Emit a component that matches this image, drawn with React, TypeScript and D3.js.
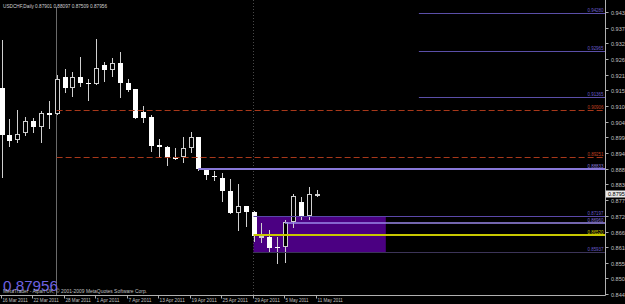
import React from "react";
import * as d3 from "d3";

const dates = ["16 Mar","17 Mar","18 Mar","21 Mar","22 Mar","23 Mar","24 Mar","25 Mar","28 Mar","29 Mar","30 Mar","31 Mar","1 Apr","4 Apr","5 Apr","6 Apr","7 Apr","8 Apr","11 Apr","12 Apr","13 Apr","14 Apr","15 Apr","18 Apr","19 Apr","20 Apr","21 Apr","22 Apr","25 Apr","26 Apr","27 Apr","28 Apr","29 Apr","2 May","3 May","4 May","5 May","6 May","9 May","10 May","11 May"];
const opens = [0.91670,0.90029,0.89854,0.90109,0.90518,0.90319,0.90797,0.90752,0.92065,0.91660,0.92044,0.91856,0.91800,0.92463,0.92299,0.92533,0.91835,0.91625,0.90822,0.90647,0.89680,0.89599,0.89250,0.89261,0.89564,0.89948,0.88808,0.88593,0.88527,0.88084,0.87315,0.87549,0.87350,0.86431,0.86477,0.86107,0.86107,0.86980,0.87678,0.87210,0.87901];
const highs = [0.93347,0.90577,0.90902,0.90658,0.90623,0.90867,0.91227,0.92125,0.92324,0.92219,0.92743,0.91974,0.93382,0.92589,0.92708,0.92938,0.91974,0.91636,0.91042,0.90728,0.89889,0.89645,0.89564,0.89976,0.90144,0.89969,0.88866,0.88782,0.88712,0.88492,0.88318,0.87560,0.87360,0.86945,0.86711,0.86477,0.87060,0.87968,0.87853,0.88202,0.88097];
const lows = [0.88527,0.89599,0.89739,0.89994,0.90109,0.89760,0.90249,0.90727,0.91485,0.91367,0.91716,0.91227,0.91790,0.91891,0.92065,0.91311,0.91541,0.90577,0.90437,0.89446,0.89271,0.88946,0.89156,0.89040,0.89390,0.88771,0.88457,0.88433,0.87699,0.87280,0.86676,0.86826,0.86302,0.86246,0.85953,0.85523,0.85548,0.86770,0.87060,0.87060,0.87850];
const closes = [0.90029,0.89830,0.90053,0.90518,0.90319,0.90787,0.90738,0.91974,0.91660,0.92044,0.91835,0.91810,0.92359,0.92299,0.92533,0.91835,0.91601,0.90612,0.90633,0.89645,0.89599,0.89250,0.89180,0.89575,0.89948,0.88831,0.88623,0.88547,0.88084,0.87294,0.87549,0.87340,0.86501,0.86501,0.86093,0.86072,0.86980,0.87898,0.87200,0.87968,0.87956];

const priceTicks = [0.94329,0.93782,0.93238,0.92690,0.92139,0.91596,0.91048,0.90497,0.89948,0.89402,0.88850,0.88307,0.87755,0.87208,0.86658,0.86105,0.85565,0.85018,0.84470];
const dateTicks = ["16 Mar","22 Mar","28 Mar","1 Apr","7 Apr","13 Apr","19 Apr","25 Apr","29 Apr","5 May","11 May"];

const levelValues = [0.94280,0.92965,0.91365,0.90906,0.89251,0.88833,0.87197,0.86960,0.86520,0.85937];
const levelStartBar = [53,53,53,7,7,25,32,36,32,32];
const levelKinds = ["fibo","fibo","fibo","dash","dash","thick","thin","light","yellow","dim"];

const rectBars = [32, 48.8];
const rectPrices = [0.87197, 0.85937];
const vLineBars = [7, 32];

const title = "USDCHF,Daily  0.87901 0.88097 0.87509 0.87956";
const lastPrice = "0.87956";
const copyright = "MetaTrader - Alpari UK, \u00a9 2001-2009 MetaQuotes Software Corp.";

const W = 625, H = 304;
const AX = 605.5, AY = 295.5;
const FONT = "'Liberation Sans', 'DejaVu Sans', sans-serif";

const kindStyle: Record<string, any> = {
  fibo: { stroke: "#5b4fa8", w: 1, dash: null, text: "#6a5cc8" },
  dash: { stroke: "#a8381a", w: 1, dash: "6,3", text: "#c04020" },
  thick: { stroke: "#8878d8", w: 2, dash: null, text: "#8878d8" },
  thin: { stroke: "#5a48a8", w: 1, dash: null, text: "#6a5cc8" },
  light: { stroke: "#9a88e8", w: 1.5, dash: null, text: "#8070d0" },
  yellow: { stroke: "#c8c800", w: 2, dash: null, text: "#c8c800" },
  dim: { stroke: "#3c3458", w: 1, dash: null, text: "#6a5cc8" },
};

export default function App() {
  const x = d3.scaleLinear().domain([0, 40]).range([1.5, 316.5]);
  const y = d3.scaleLinear().domain([0.8451, 0.9437]).range([293, 10.7]);
  const barIndex = (d: string) => dates.indexOf(d);

  return (
    <svg width={W} height={H} style={{ position: "fixed", left: 0, top: 0, background: "#000" }}>
      <rect x={0} y={0} width={W} height={H} fill="#000" />
      <defs>
        <clipPath id="plot"><rect x={0} y={0} width={AX} height={AY} /></clipPath>
      </defs>
      <g clipPath="url(#plot)">
        {/* rectangle object */}
        <rect x={x(rectBars[0])} y={y(rectPrices[0])} width={x(rectBars[1]) - x(rectBars[0])}
          height={y(rectPrices[1]) - y(rectPrices[0])} fill="#4b0082" />
        {/* vertical lines */}
        <line x1={Math.round(x(vLineBars[0])) - 0.5} x2={Math.round(x(vLineBars[0])) - 0.5} y1={7} y2={AY} stroke="#6a6a6a" strokeWidth={1} />
        <line x1={Math.round(x(vLineBars[1])) - 0.5} x2={Math.round(x(vLineBars[1])) - 0.5} y1={0} y2={AY} stroke="#484848" strokeWidth={1} strokeDasharray="1,2" />
        {/* candles */}
        {dates.map((d, i) => {
          const cx = Math.round(x(i));
          const o = opens[i], c = closes[i], h = highs[i], l = lows[i];
          const bull = c >= o;
          const top = Math.round(y(Math.max(o, c)));
          const bot = Math.round(y(Math.min(o, c)));
          const bh = Math.max(1, bot - top);
          return (
            <g key={d} shapeRendering="crispEdges">
              <line x1={cx + 0.5} x2={cx + 0.5} y1={y(h)} y2={y(l)} stroke="#d0d0d0" strokeWidth={1} />
              {bull ? (
                <rect x={cx - 1.5} y={top + 0.5} width={4} height={Math.max(0.5, bh - 1)} fill="#000" stroke="#d0d0d0" strokeWidth={1} />
              ) : (
                <rect x={cx - 2} y={top} width={5} height={bh} fill="#ffffff" />
              )}
            </g>
          );
        })}
        {/* level lines */}
        {levelValues.map((v, i) => {
          const s = kindStyle[levelKinds[i]];
          const yy = Math.round(y(v)) + (s.w === 1 ? 0.5 : 0);
          return (
            <line key={"lv" + i} x1={x(levelStartBar[i])} x2={AX} y1={yy} y2={yy}
              stroke={s.stroke} strokeWidth={s.w} strokeDasharray={s.dash || undefined} />
          );
        })}
      </g>
      {/* level labels */}
      {levelValues.map((v, i) => {
        const s = kindStyle[levelKinds[i]];
        return (
          <text key={"lt" + i} x={603.5} y={Math.round(y(v)) - 1.5} fontSize={5} fontFamily={FONT}
            fill={s.text} textAnchor="end" textLength={16} lengthAdjust="spacingAndGlyphs">
            {v.toFixed(5)}
          </text>
        );
      })}
      {/* axes */}
      <line x1={AX} x2={AX} y1={0} y2={AY} stroke="#b0b0b0" strokeWidth={1} />
      <line x1={0} x2={AX} y1={AY} y2={AY} stroke="#b0b0b0" strokeWidth={1} />
      {priceTicks.map((t) => (
        <g key={"pt" + t}>
          <line x1={AX} x2={AX + 3} y1={Math.round(y(t)) + 0.5} y2={Math.round(y(t)) + 0.5} stroke="#b0b0b0" />
          <text x={611} y={Math.round(y(t)) + 2.5} fontSize={5.5} fontFamily={FONT} fill="#c0c0c0"
            textLength={20} lengthAdjust="spacingAndGlyphs">{t.toFixed(5)}</text>
        </g>
      ))}
      {/* bid label */}
      <rect x={606} y={Math.round(y(0.87956)) - 3.5} width={19} height={7} fill="#e8e8e8" />
      <text x={608} y={Math.round(y(0.87956)) + 2} fontSize={5.5} fontFamily={FONT} fill="#000"
        textLength={20} lengthAdjust="spacingAndGlyphs">{lastPrice}</text>
      {dateTicks.map((d) => {
        const xi = Math.round(x(barIndex(d))) - 0.5;
        const label = d + " 2011";
        return (
          <g key={"dt" + d}>
            <line x1={xi} x2={xi} y1={AY} y2={AY + 3} stroke="#b0b0b0" />
            <text x={xi + 1} y={302} fontSize={5.5} fontFamily={FONT} fill="#c0c0c0"
              textLength={label.length * 2.3} lengthAdjust="spacingAndGlyphs">{label}</text>
          </g>
        );
      })}
      {/* texts */}
      <text x={3} y={7.5} fontSize={5.5} fontFamily={FONT} fill="#d0d0d0" textLength={104} lengthAdjust="spacingAndGlyphs">{title}</text>
      <text x={3} y={291} fontSize={14.5} fontFamily={FONT} fill="#6f62e0" textLength={55} lengthAdjust="spacingAndGlyphs">{lastPrice}</text>
      <text x={3} y={293} fontSize={5} fontFamily={FONT} fill="#c0c0c0" textLength={144} lengthAdjust="spacingAndGlyphs">{copyright}</text>
    </svg>
  );
}
